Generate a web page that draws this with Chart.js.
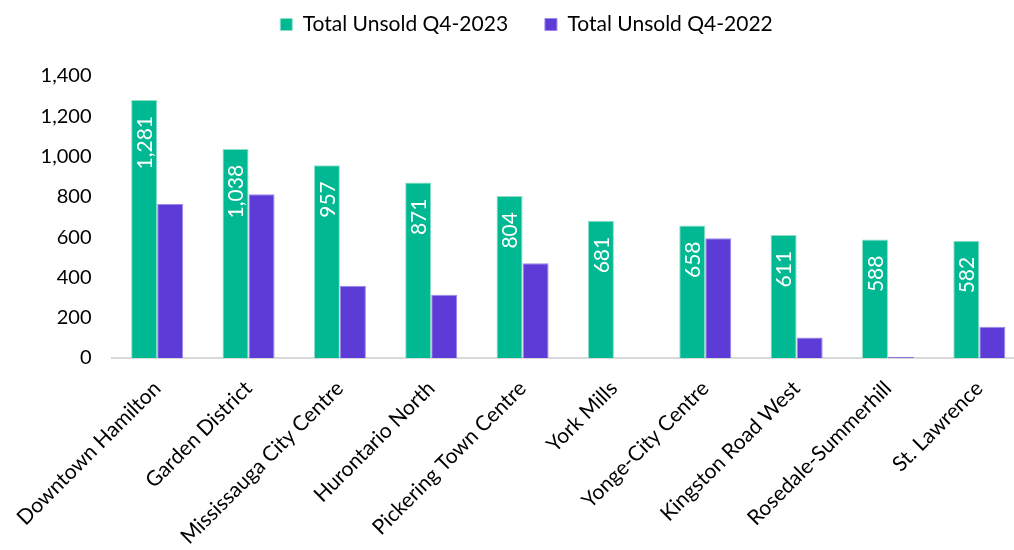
<!DOCTYPE html>
<html lang="en">
<head>
    <meta charset="UTF-8">
    <title>Total Unsold Q4</title>
    <style>
        html, body { margin: 0; padding: 0; background: #fff; overflow: hidden; }
        .wrap { width: 1026px; height: 550px; }
    </style>
</head>
<body>
    <div class="wrap">
        <canvas id="bar-chart" width="1026" height="550"></canvas>
    </div>

    <script src="https://cdn.jsdelivr.net/npm/chart.js"></script>
    <script>
        var labels = ["Downtown Hamilton", "Garden District", "Mississauga City Centre", "Hurontario North",
            "Pickering Town Centre", "York Mills", "Yonge-City Centre", "Kingston Road West",
            "Rosedale-Summerhill", "St. Lawrence"];
        var unsold2023 = [1281, 1038, 957, 871, 804, 681, 658, 611, 588, 582];
        var unsold2022 = [764, 813, 359, 314, 471, 0, 595, 102, 6, 155];
        var yTicks = [0, 200, 400, 600, 800, 1000, 1200, 1400];

        var green = "#00b992";
        var purple = "#5c3bd6";
        var fontName = "Lato, 'Open Sans', sans-serif";

        // white rotated value labels near the top of the green bars
        var valueLabels = {
            id: "valueLabels",
            afterDatasetsDraw(chart) {
                var ctx = chart.ctx;
                var meta = chart.getDatasetMeta(0);
                ctx.save();
                ctx.fillStyle = "#ffffff";
                ctx.font = "21px " + fontName;
                ctx.textAlign = "right";
                ctx.textBaseline = "middle";
                meta.data.forEach(function (bar, i) {
                    ctx.save();
                    ctx.translate(bar.x + 1, bar.y + 16);
                    ctx.rotate(-Math.PI / 2);
                    ctx.fillText(unsold2023[i].toLocaleString("en-US"), 0, 0);
                    ctx.restore();
                });
                ctx.restore();
            }
        };

        // extra room under the legend
        var legendSpace = {
            id: "legendSpace",
            beforeInit(chart) {
                var fit = chart.legend.fit;
                chart.legend.fit = function () {
                    fit.bind(chart.legend)();
                    this.height += 31;
                };
            }
        };

        const barChart = new Chart(document.getElementById("bar-chart"), {
            type: "bar",
            data: {
                labels: labels,
                datasets: [{
                    label: "Total Unsold Q4-2023",
                    data: unsold2023,
                    backgroundColor: green,
                    borderColor: "#8fe0c8",
                    borderWidth: 1
                }, {
                    label: "Total Unsold Q4-2022",
                    data: unsold2022,
                    backgroundColor: purple,
                    borderColor: "#9c88e8",
                    borderWidth: 1
                }]
            },
            options: {
                responsive: false,
                animation: false,
                categoryPercentage: 0.57,
                barPercentage: 1,
                layout: { padding: { left: 28, right: 1, top: 4, bottom: 0 } },
                plugins: {
                    tooltip: { enabled: false },
                    legend: {
                        position: "top",
                        labels: {
                            color: "#000",
                            font: { family: fontName, size: 21 },
                            boxWidth: 12,
                            boxHeight: 12,
                            padding: 10,
                            generateLabels: function (chart) {
                                var items = Chart.defaults.plugins.legend.labels.generateLabels(chart);
                                // widen the gap between the two entries
                                items[0].text = items[0].text + "     ";
                                return items;
                            }
                        }
                    }
                },
                scales: {
                    x: {
                        grid: { display: false },
                        border: { color: "#d9d9d9", width: 2 },
                        ticks: {
                            color: "#000",
                            font: { family: fontName, size: 21 },
                            maxRotation: 45,
                            minRotation: 45,
                            padding: 10
                        },
                        afterFit: function (axis) { axis.height = 192; }
                    },
                    y: {
                        min: 0,
                        max: 1400,
                        afterBuildTicks: function (axis) {
                            axis.ticks = yTicks.map(function (v) { return { value: v }; });
                        },
                        grid: { display: false },
                        border: { display: false },
                        ticks: {
                            color: "#000",
                            font: { family: fontName, size: 20 },
                            padding: 12,
                            callback: function (v) { return v.toLocaleString("en-US"); }
                        },
                        afterFit: function (axis) { axis.width = 83.5; }
                    }
                }
            },
            plugins: [valueLabels, legendSpace]
        });
    </script>
</body>
</html>
